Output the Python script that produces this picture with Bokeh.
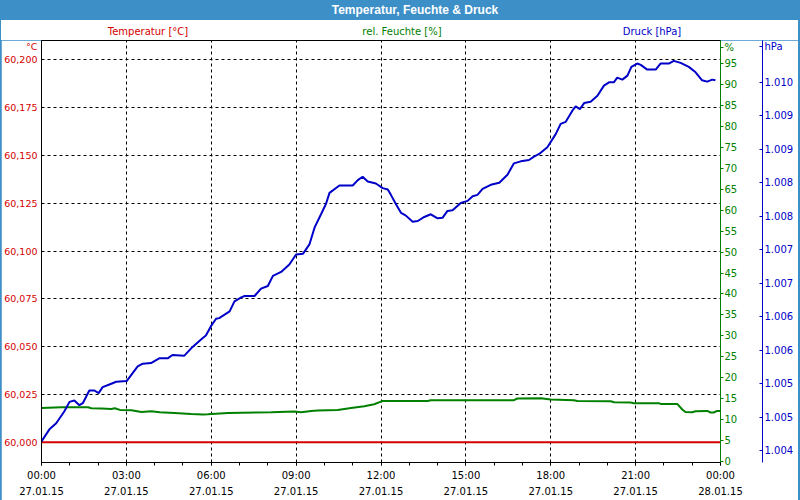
from bokeh.plotting import figure
from bokeh.models import Range1d, LinearAxis, FixedTicker, Div
from bokeh.layouts import column
from bokeh.embed import file_html
from bokeh.resources import INLINE

# ---------------- data ----------------
title_text = "Temperatur, Feuchte &amp; Druck"
legend_texts = ["Temperatur [°C]", "rel. Feuchte [%]", "Druck [hPa]"]
unit_texts = ["°C", "%", "hPa"]

hour_ticks = [0, 3, 6, 9, 12, 15, 18, 21, 24]
hour_minor = list(range(0, 25))
hour_labels = ["00:00\n27.01.15", "03:00\n27.01.15", "06:00\n27.01.15", "09:00\n27.01.15",
               "12:00\n27.01.15", "15:00\n27.01.15", "18:00\n27.01.15", "21:00\n27.01.15",
               "00:00\n28.01.15"]

temp_ticks = [60.000, 60.025, 60.050, 60.075, 60.100, 60.125, 60.150, 60.175, 60.200]
temp_labels = ["60,000", "60,025", "60,050", "60,075", "60,100", "60,125", "60,150", "60,175", "60,200"]

hum_ticks = list(range(0, 100, 5))

press_ticks = [1004.0, 1004.5, 1005.0, 1005.5, 1006.0, 1006.5, 1007.0, 1007.5, 1008.0, 1008.5, 1009.0, 1009.5]
press_labels = ["1.004", "1.005", "1.005", "1.006", "1.006", "1.007", "1.007", "1.008", "1.008", "1.009", "1.009", "1.010"]

temp_hours = [0.0, 6.0, 12.0, 18.0, 24.0]
temp_values = [60.000, 60.000, 60.000, 60.000, 60.000]

hum_hours = [0.0, 0.71, 1.65, 1.76, 2.12, 2.47, 2.59, 2.77, 3.18, 3.53, 3.88, 4.18, 4.70, 5.29,
             5.71, 5.88, 6.59, 8.12, 8.94, 9.18, 9.53, 9.77, 10.47, 10.94, 11.41, 11.76, 12.06,
             13.65, 13.76, 16.70, 16.82, 17.65, 18.00, 18.82, 18.94, 20.12, 20.24, 20.82, 20.94,
             21.82, 21.88, 22.47, 22.65, 22.76, 23.00, 23.12, 23.53, 23.65, 23.76, 23.88, 24.0]
hum_values = [12.86, 13.02, 13.02, 12.79, 12.71, 12.62, 12.79, 12.38, 12.31, 11.90, 12.07, 11.83,
              11.67, 11.43, 11.29, 11.36, 11.67, 11.83, 12.00, 11.83, 12.14, 12.24, 12.38, 12.86,
              13.26, 13.74, 14.52, 14.52, 14.69, 14.69, 15.10, 15.17, 14.86, 14.69, 14.52, 14.45,
              14.21, 14.14, 13.98, 13.98, 13.81, 13.81, 12.48, 11.90, 11.83, 12.07, 12.14, 11.76,
              11.76, 12.14, 12.14]

press_hours = [0.0, 0.28, 0.52, 0.81, 0.99, 1.16, 1.34, 1.46, 1.69, 1.87, 2.02, 2.16, 2.40, 2.64,
               3.01, 3.40, 3.58, 3.87, 4.16, 4.46, 4.63, 5.05, 5.34, 5.69, 5.81, 5.99, 6.17, 6.28,
               6.65, 6.82, 7.06, 7.18, 7.53, 7.76, 8.00, 8.18, 8.47, 8.76, 9.00, 9.24, 9.47, 9.65,
               9.88, 10.06, 10.18, 10.53, 11.00, 11.18, 11.35, 11.53, 11.82, 12.06, 12.24, 12.35,
               12.53, 12.71, 12.88, 13.12, 13.30, 13.53, 13.76, 14.00, 14.18, 14.35, 14.53, 14.82,
               15.06, 15.24, 15.41, 15.59, 15.88, 16.18, 16.47, 16.70, 16.94, 17.23, 17.41, 17.59,
               17.88, 18.18, 18.35, 18.53, 18.77, 18.88, 19.03, 19.18, 19.41, 19.65, 19.88, 20.06,
               20.23, 20.35, 20.53, 20.71, 20.85, 21.06, 21.18, 21.41, 21.71, 21.88, 22.17, 22.35,
               22.59, 22.88, 23.12, 23.35, 23.53, 23.71, 23.82]
press_values = [1004.14, 1004.32, 1004.41, 1004.59, 1004.73, 1004.75, 1004.68, 1004.71, 1004.90,
                1004.90, 1004.86, 1004.95, 1004.99, 1005.03, 1005.04, 1005.26, 1005.30, 1005.31,
                1005.38, 1005.38, 1005.43, 1005.42, 1005.55, 1005.68, 1005.72, 1005.86, 1005.97,
                1005.98, 1006.08, 1006.23, 1006.29, 1006.31, 1006.31, 1006.42, 1006.46, 1006.61,
                1006.67, 1006.78, 1006.93, 1006.94, 1007.08, 1007.33, 1007.53, 1007.69, 1007.85,
                1007.96, 1007.96, 1008.04, 1008.09, 1008.02, 1007.99, 1007.92, 1007.90, 1007.82,
                1007.68, 1007.55, 1007.51, 1007.42, 1007.43, 1007.49, 1007.53, 1007.47, 1007.48,
                1007.58, 1007.59, 1007.70, 1007.73, 1007.80, 1007.82, 1007.91, 1007.97, 1008.00,
                1008.12, 1008.29, 1008.32, 1008.34, 1008.39, 1008.43, 1008.53, 1008.73, 1008.88,
                1008.91, 1009.08, 1009.14, 1009.10, 1009.19, 1009.21, 1009.30, 1009.45, 1009.50,
                1009.50, 1009.57, 1009.54, 1009.60, 1009.73, 1009.78, 1009.76, 1009.69, 1009.69,
                1009.78, 1009.78, 1009.82, 1009.79, 1009.73, 1009.65, 1009.53, 1009.51, 1009.54,
                1009.53]

# ---------------- style ----------------
FONT = "DejaVu Sans"
BAR_BLUE = "#3d8fc8"
RED = "#d40000"
GREEN = "#008000"
BLUE = "#0000c8"

X0, X1 = 0.0, 24.0
T0, T1 = 59.98936, 60.21012
H0, H1 = -0.15, 100.4
P0, P1 = 1003.825, 1010.124

# frame placement on the page (pixels)
FT, FB = 40, 461


def frame_frac(py):
    return (py - FT) / (FB - FT)


# positions of the unit captions at the top end of each value axis (page y)
unit_t = round(T1 - frame_frac(46) * (T1 - T0), 6)
unit_h = round(H1 - frame_frac(46.5) * (H1 - H0), 4)
unit_p = round(P1 - frame_frac(46) * (P1 - P0), 4)

p = figure(width=797, height=460, output_backend="svg", toolbar_location=None,
           x_range=Range1d(X0, X1), y_range=Range1d(T0, T1),
           min_border_left=39, min_border_right=78, min_border_top=0, min_border_bottom=37,
           background_fill_color="white", border_fill_color="white",
           outline_line_color="black", outline_line_width=1)
p.margin = (0, 2, 2, 1)
p.extra_y_ranges = {"hum": Range1d(H0, H1), "press": Range1d(P0, P1)}

# bottom axis
xa = p.xaxis[0]
xa.ticker = FixedTicker(ticks=hour_ticks, minor_ticks=hour_minor)
xa.major_label_overrides = {t: l for t, l in zip(hour_ticks, hour_labels)}
xa.axis_line_color = "black"
xa.major_tick_line_color = "black"
xa.minor_tick_line_color = "black"
xa.major_tick_in = 0
xa.major_tick_out = 3
xa.minor_tick_in = 0
xa.minor_tick_out = 3
xa.major_label_standoff = 4
xa.major_label_text_font = FONT
xa.major_label_text_font_size = "10px"
xa.major_label_text_color = "black"
xa.major_label_text_line_height = 1.5

# left axis (with the unit caption on top)
ya = p.yaxis[0]
ya.ticker = FixedTicker(ticks=temp_ticks + [unit_t])
lab = {t: l for t, l in zip(temp_ticks, temp_labels)}
lab[unit_t] = unit_texts[0]
ya.major_label_overrides = lab
ya.axis_line_color = "black"
ya.major_tick_in = 0
ya.major_tick_out = 0
ya.minor_tick_line_color = None
ya.major_label_standoff = 4
ya.major_label_text_font = FONT
ya.major_label_text_font_size = "9.5px"
ya.major_label_text_color = RED

# green humidity axis
ga = LinearAxis(y_range_name="hum", ticker=FixedTicker(ticks=hum_ticks + [unit_h]),
                major_label_overrides={unit_h: unit_texts[1]},
                axis_line_color=GREEN, axis_line_width=1,
                major_tick_line_color=GREEN, major_tick_in=0, major_tick_out=3,
                minor_tick_line_color=None,
                major_label_standoff=1, major_label_text_font=FONT,
                major_label_text_font_size="10px", major_label_text_color=GREEN,
                axis_label=" ", axis_label_standoff=8, axis_label_text_font_size="10px")
p.add_layout(ga, "right")

# blue pressure axis
plab = {t: l for t, l in zip(press_ticks, press_labels)}
plab[unit_p] = unit_texts[2]
ba = LinearAxis(y_range_name="press", ticker=FixedTicker(ticks=press_ticks + [unit_p]),
                major_label_overrides=plab,
                axis_line_color=BLUE, axis_line_width=1,
                major_tick_line_color=BLUE, major_tick_in=3, major_tick_out=0,
                minor_tick_line_color=None,
                major_label_standoff=2, major_label_text_font=FONT,
                major_label_text_font_size="10px", major_label_text_color=BLUE)
p.add_layout(ba, "right")

# grids (own tickers so that the unit captions get no grid line)
p.xgrid[0].ticker = FixedTicker(ticks=hour_ticks)
p.ygrid[0].ticker = FixedTicker(ticks=temp_ticks)
for g in (p.xgrid[0], p.ygrid[0]):
    g.grid_line_color = "black"
    g.grid_line_dash = "3 3"
    g.grid_line_width = 1
    g.grid_line_alpha = 1.0

# series
p.line(temp_hours, temp_values, line_color=RED, line_width=2)
p.line(hum_hours, hum_values, line_color=GREEN, line_width=2, y_range_name="hum")
p.line(press_hours, press_values, line_color=BLUE, line_width=2, y_range_name="press")

# header: title bar + coloured series captions
span_css = ("position:absolute;top:26px;height:12px;line-height:12px;white-space:nowrap;"
            "transform:translateX(-50%);font-family:'DejaVu Sans',sans-serif;font-size:10px;")
captions = "".join(
    f'<div style="{span_css}left:{cx}px;color:{col};">{txt}</div>'
    for txt, col, cx in zip(legend_texts, [RED, GREEN, BLUE], [148, 402, 652]))
header_html = (
    '<div style="position:relative;width:800px;height:40px;margin:0;padding:0;overflow:hidden;">'
    f'<div style="position:absolute;left:0;top:0;width:800px;height:40px;background:{BAR_BLUE};"></div>'
    '<div style="position:absolute;left:1px;top:20px;width:797px;height:20px;background:white;"></div>'
    '<div style="position:absolute;left:0;top:0;width:800px;height:20px;line-height:20px;'
    "text-align:center;text-indent:30px;color:white;font-weight:bold;font-size:12px;"
    f"font-family:'Liberation Sans',sans-serif;\">{title_text}</div>"
    f'{captions}</div>')

header = Div(text=header_html, width=800, height=40, margin=(0, 0, 0, 0))

layout = column(header, p, spacing=0, margin=(0, 0, 0, 0),
                styles={"background-color": BAR_BLUE})

open("out.html", "w").write(file_html(layout, INLINE))
